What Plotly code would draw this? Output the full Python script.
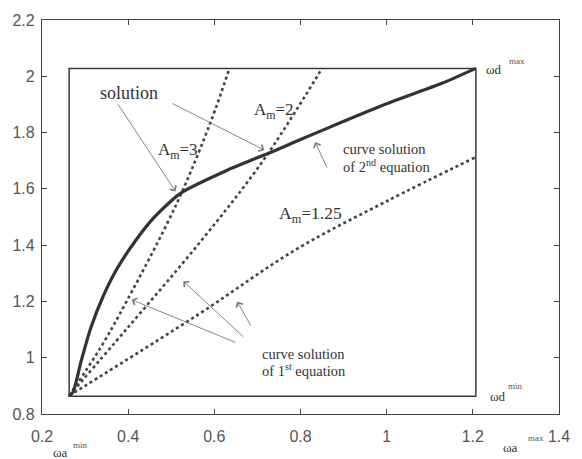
import plotly.graph_objects as go

# Solid curve: solution of 2nd equation
sol_x = [0.263, 0.272, 0.291, 0.313, 0.343, 0.374, 0.419, 0.455, 0.494, 0.521, 0.63, 0.736, 0.789, 0.902, 1.015, 1.128, 1.207]
sol_y = [0.865, 0.878, 0.989, 1.105, 1.222, 1.316, 1.420, 1.490, 1.549, 1.584, 1.666, 1.733, 1.768, 1.841, 1.911, 1.975, 2.028]

# Dotted curves: solutions of 1st equation
am3_x = [0.263, 0.336, 0.396, 0.513, 0.592, 0.635]
am3_y = [0.865, 1.036, 1.199, 1.549, 1.840, 2.028]
am2_x = [0.263, 0.398, 0.566, 0.713, 0.850]
am2_y = [0.865, 1.105, 1.409, 1.700, 2.028]
am125_x = [0.263, 0.562, 0.789, 1.0, 1.207]
am125_y = [0.865, 1.153, 1.384, 1.556, 1.713]

# Inner bounding box (omega limits)
box_x = [0.263, 1.207]
box_y = [0.863, 2.028]

x_ticks = [0.2, 0.4, 0.6, 0.8, 1.0, 1.2, 1.4]
x_tick_text = ["0.2", "0.4", "0.6", "0.8", "1", "1.2", "1.4"]
y_ticks = [0.8, 1.0, 1.2, 1.4, 1.6, 1.8, 2.0, 2.2]
y_tick_text = ["0.8", "1", "1.2", "1.4", "1.6", "1.8", "2", "2.2"]

fig = go.Figure()

fig.add_shape(type="rect", x0=box_x[0], x1=box_x[1], y0=box_y[0], y1=box_y[1],
              line=dict(color="#3a3a3a", width=1.5), layer="below")

dot_style = dict(color="#444444", width=2.6, dash="dot", shape="spline")
for xs, ys in [(am3_x, am3_y), (am2_x, am2_y), (am125_x, am125_y)]:
    fig.add_trace(go.Scatter(x=xs, y=ys, mode="lines", line=dot_style,
                             showlegend=False, hoverinfo="skip"))

fig.add_trace(go.Scatter(x=sol_x, y=sol_y, mode="lines",
                         line=dict(color="#333333", width=3.2, shape="spline", smoothing=0.7),
                         showlegend=False, hoverinfo="skip"))

serif = "Liberation Serif"
txt_col = "#333333"

def label(x, y, text, size=15, xanchor="center"):
    fig.add_annotation(x=x, y=y, xref="x", yref="y", text=text, showarrow=False,
                       font=dict(family=serif, size=size, color=txt_col), xanchor=xanchor)

def arrow(x0, y0, x1, y1):
    fig.add_annotation(x=x1, y=y1, ax=x0, ay=y0, xref="x", yref="y", axref="x", ayref="y",
                       text="", showarrow=True, arrowhead=4, arrowsize=1.6,
                       arrowwidth=0.9, arrowcolor="#777777")

label(0.401, 1.941, "solution", size=18)
arrow(0.374, 1.906, 0.510, 1.591)
arrow(0.499, 1.906, 0.716, 1.738)

label(0.515, 1.735, "A<sub>m</sub>=3", size=17)
label(0.739, 1.878, "A<sub>m</sub>=2", size=17)
label(0.823, 1.51, "A<sub>m</sub>=1.25", size=17.5)

label(0.895, 1.741, "curve solution", size=14.5, xanchor="left")
label(0.895, 1.682, "of 2<sup>nd</sup> equation", size=14.5, xanchor="left")
arrow(0.863, 1.671, 0.834, 1.766)

label(0.705, 1.013, "curve solution", size=14.5, xanchor="left")
label(0.705, 0.957, "of 1<sup>st</sup> equation", size=14.5, xanchor="left")
arrow(0.653, 1.052, 0.408, 1.206)
arrow(0.671, 1.069, 0.528, 1.272)
arrow(0.687, 1.108, 0.653, 1.199)

# omega limit labels (paper coordinates so that labels below the axis stay visible)
def omega(px, py, sub, sup, supdx, supdy):
    fig.add_annotation(x=px, y=py, xref="paper", yref="paper", xanchor="left", yanchor="middle",
                       text="ω" + sub, showarrow=False,
                       font=dict(family=serif, size=13, color=txt_col))
    fig.add_annotation(x=px + supdx, y=py + supdy, xref="paper", yref="paper", xanchor="left",
                       yanchor="middle", text=sup, showarrow=False,
                       font=dict(family=serif, size=9, color="#555555"))

omega(0.855, 0.874, "d", "max", 0.044, 0.021)
omega(0.862, 0.045, "d", "min", 0.035, 0.027)
omega(0.018, -0.0975, "a", "min", 0.038, 0.02)
omega(0.888, -0.085, "a", "max", 0.048, 0.025)

axis_common = dict(showgrid=False, zeroline=False, showline=True, linecolor="#444444",
                   linewidth=1.2, mirror="ticks", ticks="inside", ticklen=5,
                   tickcolor="#444444",
                   tickfont=dict(family="Liberation Sans", size=16, color="#555555"))

fig.update_xaxes(range=[0.2, 1.4], tickvals=x_ticks, ticktext=x_tick_text,
                 ticklabelstandoff=8, **axis_common)
fig.update_yaxes(range=[0.8, 2.2], tickvals=y_ticks, ticktext=y_tick_text,
                 ticklabelstandoff=3, **axis_common)

fig.update_layout(width=582, height=459, margin=dict(l=40, r=12, t=14, b=45),
                  plot_bgcolor="white", paper_bgcolor="white", showlegend=False)

fig.write_html("out.html", config={"displayModeBar": False},
               post_script="document.body.style.margin='0';document.body.style.overflow='hidden';")
